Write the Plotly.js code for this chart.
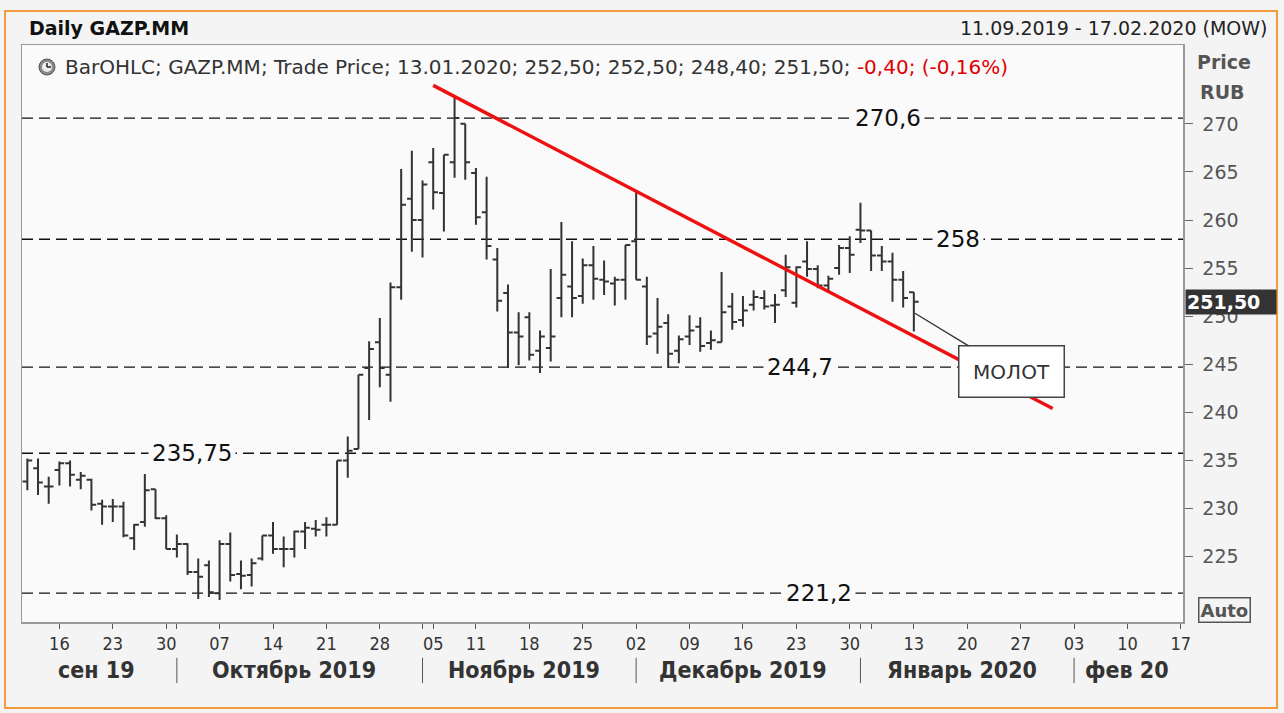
<!DOCTYPE html>
<html><head><meta charset="utf-8">
<script src="https://cdn.plot.ly/plotly-3.0.1.min.js"></script>
<style>html,body{margin:0;padding:0;background:#f4f4f4;}#chart{width:1284px;height:713px;}</style>
</head><body><div id="chart"></div>
<script>
// ---- data ----
const tradeDates = [
 '2019-09-11','2019-09-12','2019-09-13','2019-09-16','2019-09-17','2019-09-18','2019-09-19','2019-09-20','2019-09-23','2019-09-24','2019-09-25','2019-09-26','2019-09-27','2019-09-30',
 '2019-10-01','2019-10-02','2019-10-03','2019-10-04','2019-10-07','2019-10-08','2019-10-09','2019-10-10','2019-10-11','2019-10-14','2019-10-15','2019-10-16','2019-10-17','2019-10-18','2019-10-21','2019-10-22','2019-10-23','2019-10-24','2019-10-25','2019-10-28','2019-10-29','2019-10-30','2019-10-31',
 '2019-11-01','2019-11-05','2019-11-06','2019-11-07','2019-11-08','2019-11-11','2019-11-12','2019-11-13','2019-11-14','2019-11-15','2019-11-18','2019-11-19','2019-11-20','2019-11-21','2019-11-22','2019-11-25','2019-11-26','2019-11-27','2019-11-28','2019-11-29',
 '2019-12-02','2019-12-03','2019-12-04','2019-12-05','2019-12-06','2019-12-09','2019-12-10','2019-12-11','2019-12-12','2019-12-13','2019-12-16','2019-12-17','2019-12-18','2019-12-19','2019-12-20','2019-12-23','2019-12-24','2019-12-25','2019-12-26','2019-12-27','2019-12-30',
 '2020-01-03','2020-01-06','2020-01-08','2020-01-09','2020-01-10','2020-01-13'];
const futureDates = ['2020-01-14','2020-01-15','2020-01-16','2020-01-17','2020-01-20','2020-01-21','2020-01-22','2020-01-23','2020-01-24','2020-01-27','2020-01-28','2020-01-29','2020-01-30','2020-01-31',
 '2020-02-03','2020-02-04','2020-02-05','2020-02-06','2020-02-07','2020-02-10','2020-02-11','2020-02-12','2020-02-13','2020-02-14','2020-02-17'];

const openP  = [232.8,234.2,232.3,234.0,234.7,233.0,233.0,230.5,230.2,230.2,226.9,228.6,232.0,229.0,
 225.8,226.3,223.4,224.1,221.2,226.3,223.2,223.1,224.8,227.2,225.8,225.8,227.6,227.9,228.3,228.3,235.0,236.2,244.6,247.3,243.9,253.0,262.2,
 260.0,266.0,262.8,266.0,270.0,264.9,260.8,255.9,252.4,248.3,249.9,246.4,246.7,251.9,253.1,252.1,255.3,253.8,253.4,253.8,
 257.8,253.1,248.2,249.3,246.4,247.9,248.9,247.2,247.3,251.0,249.6,251.2,251.9,251.1,252.7,251.4,255.7,254.9,253.2,255.0,257.1,
 259.0,258.9,256.3,255.7,253.8,252.5];
const highP  = [235.2,235.2,233.3,234.9,235.0,233.8,233.1,230.9,231.0,230.7,228.4,233.6,232.0,229.3,
 227.3,226.4,224.8,224.6,226.7,227.5,224.6,224.8,227.2,228.6,227.1,227.7,228.6,228.8,229.1,235.0,237.5,243.9,247.4,249.8,253.5,265.3,267.2,
 264.1,267.5,266.8,272.7,270.0,265.4,264.5,257.1,253.3,250.4,250.4,248.5,254.9,259.8,257.8,256.0,257.3,255.8,254.1,257.4,
 262.9,254.1,251.9,250.2,248.0,250.1,249.9,248.5,254.6,252.4,252.1,252.7,252.7,252.3,256.4,255.2,257.8,255.3,254.2,257.4,258.3,
 261.8,258.9,257.3,256.6,254.7,252.5];
const lowP   = [231.9,231.4,230.5,232.4,232.3,232.0,229.8,228.3,228.6,227.0,225.7,228.1,228.9,225.8,
 224.9,223.1,220.6,220.8,220.5,222.4,221.6,221.9,224.6,225.3,223.9,224.9,225.8,227.1,227.1,228.3,233.2,236.2,239.2,242.6,241.1,251.7,256.7,
 256.1,261.1,258.8,264.4,264.2,259.5,255.9,250.5,244.6,244.9,245.4,244.1,245.3,249.9,249.9,251.3,251.7,252.2,251.1,251.7,
 253.8,247.0,246.1,244.6,245.1,247.0,246.3,246.5,247.3,248.6,248.9,250.6,250.7,249.3,252.0,250.9,254.1,252.9,252.4,254.3,254.5,
 257.6,254.7,254.7,251.5,250.9,248.4];
const closeP = [235.0,232.7,232.3,234.7,233.5,233.4,230.4,230.2,230.2,227.2,228.3,231.9,229.0,225.8,
 226.3,223.4,222.9,221.3,226.3,223.1,223.0,224.3,227.2,225.8,225.8,227.6,228.0,227.8,228.3,235.0,236.0,243.9,246.6,244.6,253.0,261.6,260.0,
 263.7,262.9,266.8,270.6,266.0,260.3,257.3,251.6,248.3,247.9,246.0,247.9,247.9,254.3,251.9,255.3,253.9,253.6,253.8,257.4,
 253.8,247.9,248.9,246.1,247.6,248.5,246.9,247.5,250.4,249.4,250.6,252.0,251.0,251.2,255.1,255.1,254.9,253.2,253.9,257.1,256.4,
 258.9,256.3,255.7,253.8,251.9,251.5];

const levels      = [270.6, 258, 244.7, 235.75, 221.2];
const levelLabels = ['270,6', '258', '244,7', '235,75', '221,2'];

const trendDates  = ['2019-11-05', '2020-01-30'];
const trendPrices = [274.0, 240.4];

const tickDates  = ['2019-09-16','2019-09-23','2019-09-30','2019-10-07','2019-10-14','2019-10-21','2019-10-28','2019-11-05','2019-11-11','2019-11-18','2019-11-25',
 '2019-12-02','2019-12-09','2019-12-16','2019-12-23','2019-12-30','2020-01-13','2020-01-20','2020-01-27','2020-02-03','2020-02-10','2020-02-17'];
const minorTickDates = ['2019-10-01','2019-11-01','2020-01-03','2020-01-06'];
const monthKeys   = ['2019-09','2019-10','2019-11','2019-12','2020-01','2020-02'];
const monthLabels = ['сен 19','Октябрь 2019','Ноябрь 2019','Декабрь 2019','Январь 2020','фев 20'];

const yTicks = [225,230,235,240,245,250,255,260,265,270];
const lastPrice = 251.5;
const lastPriceLabel = '251,50';
const noteText = 'МОЛОТ';

// ---- build ----
const allDates = tradeDates.concat(futureDates);
const idx = d => allDates.indexOf(d);
const xs = tradeDates.map(idx);

const FN = '"DejaVu Sans", "Liberation Sans", sans-serif';
const FC = '"DejaVu Sans Condensed", "DejaVu Sans", sans-serif';
const PLOTBG = '#fafafa';

const tickvals = [], ticktext = [];
tickDates.forEach(d => { tickvals.push(idx(d)); ticktext.push(d.slice(8)); });
minorTickDates.forEach(d => { tickvals.push(idx(d)); ticktext.push(''); });

const traces = [
  {type:'ohlc', x: xs, open: openP, high: highP, low: lowP, close: closeP,
   increasing:{line:{color:'#333', width:2}}, decreasing:{line:{color:'#333', width:2}},
   tickwidth:0.45, hoverinfo:'skip', showlegend:false},
  {type:'scatter', mode:'lines', x: trendDates.map(idx), y: trendPrices,
   line:{color:'#ee1111', width:3.5}, hoverinfo:'skip', showlegend:false}
];

const shapes = [];
const annotations = [];
const txt = (o) => Object.assign({showarrow:false, xanchor:'center', yanchor:'middle'}, o);

// level dashed lines
levels.forEach(v => shapes.push({type:'line', xref:'paper', yref:'y', x0:0, x1:1, y0:v, y1:v,
  line:{color:'#111', width:1.4, dash:'11px,6px'}, layer:'below'}));
const levelLabelX = [80.6, 87.1, 72.3, 15.4, 74.1];
levels.forEach((v,i) => annotations.push(txt({xref:'x', yref:'y', x: levelLabelX[i], y: v, text: levelLabels[i],
  font:{family:FN, size:23, color:'#111'}, bgcolor:PLOTBG, borderpad:3})));

// month labels & separators
monthKeys.forEach((m,i) => {
  const ids = allDates.map((d,j)=>d.startsWith(m)?j:null).filter(v=>v!==null);
  const c = (ids[0] + ids[ids.length-1]) / 2;
  annotations.push(txt({xref:'x', yref:'paper', x:c, y:-0.083, text:'<b>'+monthLabels[i]+'</b>',
    font:{family:FC, size:23, color:'#333'}}));
  if (i>0) shapes.push({type:'line', xref:'x', yref:'paper', x0:ids[0], x1:ids[0], y0:-0.062, y1:-0.106,
    line:{color:'#555', width:1}});
});

// header texts
annotations.push(txt({xref:'paper', yref:'paper', x:0.004, y:1.0295, xanchor:'left',
  text:'<b>Daily GAZP.MM</b>', font:{family:FN, size:19, color:'#111'}}));
annotations.push(txt({xref:'paper', yref:'paper', x:1.075, y:1.0295, xanchor:'right',
  text:'11.09.2019 - 17.02.2020 (MOW)', font:{family:FN, size:19, color:'#222'}}));
annotations.push(txt({xref:'paper', yref:'paper', x:0.0353, y:0.9619, xanchor:'left',
  text:'BarOHLC; GAZP.MM; Trade Price; 13.01.2020; 252,50; 252,50; 248,40; 251,50; <span style="color:#e00000">-0,40; (-0,16%)</span>',
  font:{family:FN, size:20, color:'#333'}}));
// axis header
annotations.push(txt({xref:'paper', yref:'paper', x:1.0355, y:0.9705, text:'<b>Price</b>', font:{family:FN, size:19, color:'#555'}}));
annotations.push(txt({xref:'paper', yref:'paper', x:1.034, y:0.9185, text:'<b>RUB</b>', font:{family:FN, size:19, color:'#555'}}));
annotations.push(txt({xref:'paper', yref:'paper', x:1.0355, y:0.0208, text:'<b>Auto</b>', font:{family:FN, size:18, color:'#555'},
  bordercolor:'#555', borderwidth:1.5, borderpad:1, bgcolor:'#f4f4f4'}));
// last price marker
annotations.push(txt({xref:'paper', yref:'y', x:1.0015, y:lastPrice, xanchor:'left',
  text:'<b>'+lastPriceLabel+'</b>', font:{family:FN, size:19, color:'#fff'}, bgcolor:'#333', width:88, align:'left', borderpad:1}));
// note
annotations.push({xref:'x', yref:'y', x:83.1, y:250.3, axref:'x', ayref:'y', ax:92.1, ay:244.24, showarrow:true, arrowhead:0,
  arrowwidth:1.3, arrowcolor:'#333', text:noteText, font:{family:FN, size:20, color:'#333'}, bgcolor:'#fff',
  bordercolor:'#444', borderwidth:1.5, width:104, height:50, borderpad:0});

// clock icon
shapes.push({type:'circle', xref:'paper', yref:'paper', x0:0.0146, x1:0.0284, y0:0.948, y1:0.9757, fillcolor:'#8a8a8a', line:{color:'#555', width:1}});
shapes.push({type:'circle', xref:'paper', yref:'paper', x0:0.0172, x1:0.0258, y0:0.9532, y1:0.9705, fillcolor:'#eee', line:{color:'#eee', width:0}});
shapes.push({type:'line', xref:'paper', yref:'paper', x0:0.0215, x1:0.0215, y0:0.9619, y1:0.9688, line:{color:'#222', width:1.5}});
shapes.push({type:'line', xref:'paper', yref:'paper', x0:0.0215, x1:0.0250, y0:0.9619, y1:0.9619, line:{color:'#222', width:1.5}});
// orange frame
shapes.push({type:'rect', xref:'paper', yref:'paper', x0:-0.0146, x1:1.081, y0:-0.149, y1:1.0589, line:{color:'#f39a3c', width:2}, fillcolor:'rgba(0,0,0,0)'});

const layout = {
  width:1284, height:713,
  margin:{l:22, r:101, t:45, b:91},
  paper_bgcolor:'#f4f4f4', plot_bgcolor:PLOTBG,
  font:{family:FN, color:'#333'},
  showlegend:false, hovermode:false,
  xaxis:{type:'linear', range:[-0.5, 108.2], tickmode:'array', tickvals:tickvals, ticktext:ticktext,
    ticks:'outside', ticklen:5, tickcolor:'#555', tickfont:{family:FC, size:18, color:'#333'},
    showgrid:false, zeroline:false, showline:true, mirror:true, linecolor:'#999', linewidth:1.5,
    rangeslider:{visible:false}, fixedrange:true},
  yaxis:{side:'right', range:[218.2, 278.2], tickmode:'array', tickvals:yTicks, ticktext:yTicks.map(String),
    ticks:'outside', ticklen:8, tickcolor:'#666', ticklabelstandoff:6, tickfont:{family:FN, size:19, color:'#555'},
    showgrid:false, zeroline:false, showline:true, mirror:true, linecolor:'#999', linewidth:1.5, fixedrange:true},
  shapes:shapes, annotations:annotations
};

Plotly.newPlot('chart', traces, layout, {staticPlot:true, displayModeBar:false});
</script></body></html>
